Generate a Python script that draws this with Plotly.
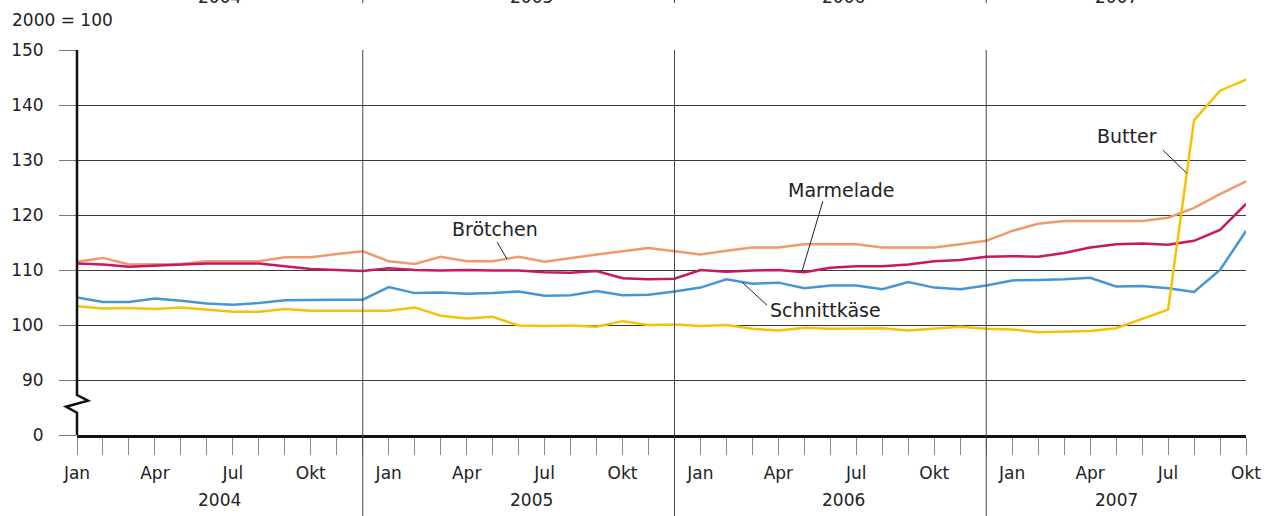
import plotly.graph_objects as go

# Monatswerte Jan 2004 bis Okt 2007, Index 2000 = 100
month_names = ["Jan", "Feb", "Mrz", "Apr", "Mai", "Jun", "Jul", "Aug", "Sep", "Okt", "Nov", "Dez"]
years = ["2004", "2005", "2006", "2007"]

broetchen = [111.5, 112.2, 111.0, 111.0, 111.1, 111.6, 111.6, 111.6, 112.3, 112.3, 112.9, 113.4,
             111.6, 111.1, 112.4, 111.6, 111.6, 112.4, 111.5, 112.2, 112.8, 113.4, 114.0, 113.4,
             112.8, 113.5, 114.1, 114.1, 114.7, 114.7, 114.7, 114.1, 114.1, 114.1, 114.7, 115.3,
             117.1, 118.4, 118.9, 118.9, 118.9, 118.9, 119.5, 121.3, 123.8, 126.1]
marmelade = [111.2, 111.0, 110.6, 110.8, 111.0, 111.2, 111.2, 111.2, 110.7, 110.2, 110.0, 109.8,
             110.3, 110.0, 109.9, 110.0, 109.9, 109.9, 109.6, 109.5, 109.8, 108.5, 108.3, 108.4,
             110.0, 109.7, 109.9, 110.0, 109.6, 110.4, 110.7, 110.7, 111.0, 111.6, 111.8, 112.4,
             112.5, 112.4, 113.1, 114.1, 114.7, 114.8, 114.6, 115.3, 117.3, 122.0]
schnittkaese = [105.0, 104.2, 104.2, 104.8, 104.4, 103.9, 103.7, 104.0, 104.5, 104.6, 104.6, 104.6,
                106.9, 105.8, 105.9, 105.7, 105.8, 106.1, 105.3, 105.4, 106.2, 105.4, 105.5, 106.1,
                106.8, 108.3, 107.5, 107.7, 106.7, 107.2, 107.2, 106.5, 107.8, 106.8, 106.5, 107.2,
                108.1, 108.2, 108.3, 108.6, 107.0, 107.1, 106.7, 106.0, 110.0, 117.1]
butter = [103.4, 103.0, 103.1, 102.9, 103.2, 102.8, 102.4, 102.4, 102.9, 102.6, 102.6, 102.6,
          102.6, 103.2, 101.7, 101.2, 101.5, 99.9, 99.8, 99.9, 99.7, 100.7, 100.0, 100.1,
          99.8, 100.0, 99.3, 99.0, 99.5, 99.3, 99.3, 99.4, 99.0, 99.3, 99.7, 99.3,
          99.2, 98.7, 98.8, 98.9, 99.4, 101.1, 102.8, 137.2, 142.6, 144.6]

y_ticks = [80, 90, 100, 110, 120, 130, 140, 150]   # 80 steht fuer die 0 unter dem Achsenbruch
y_ticktext = ["0", "90", "100", "110", "120", "130", "140", "150"]

FONT = "DejaVu Sans, Liberation Sans, Arial, sans-serif"
TXT = "#222222"
FS = 17      # Achsen
FS_LBL = 19  # Reihenbeschriftungen

n = len(broetchen)
x = list(range(n))
x_labels = [month_names[i % 12] if i % 3 == 0 else "" for i in x]

fig = go.Figure()
for name, vals, color in [("Brötchen", broetchen, "#F0996A"),
                          ("Marmelade", marmelade, "#C81862"),
                          ("Schnittkäse", schnittkaese, "#4596D2"),
                          ("Butter", butter, "#F6C106")]:
    fig.add_trace(go.Scatter(x=x, y=vals, name=name, mode="lines",
                             line=dict(color=color, width=2.5), showlegend=False))

# Jahresgrenzen (bei Dezember), durchgehend nach unten
for i in [11, 23, 35]:
    fig.add_shape(type="line", xref="x", yref="paper", x0=i, x1=i, y0=1, y1=-0.22,
                  line=dict(color="#444444", width=1), layer="above")
    fig.add_shape(type="line", xref="x", yref="paper", x0=i, x1=i, y0=1.122, y1=1.2,
                  line=dict(color="#444444", width=1), layer="above")

# linke Achse mit Bruch
fig.add_shape(type="path", xref="paper", yref="paper",
              path="M0,1 L0,0.1039 L0.0094,0.0891 L-0.0094,0.0735 L0,0.0579 L0,0",
              line=dict(color="#111111", width=2.5), layer="above")

year_pos = [5.5, 17.5, 29.5, 40]
for yr, xp in zip(years, year_pos):
    fig.add_annotation(x=xp, y=-0.169, xref="x", yref="paper", text=yr, showarrow=False,
                       yanchor="middle", font=dict(size=FS, color=TXT, family=FONT))
    # obere Jahreszeile ist im Original angeschnitten
    fig.add_annotation(x=xp, y=1.137, xref="x", yref="paper", text=yr, showarrow=False,
                       yanchor="middle", font=dict(size=FS, color=TXT, family=FONT))

fig.add_annotation(x=-0.0573, y=1.078, xref="paper", yref="paper", text="2000 = 100",
                   showarrow=False, xanchor="left", yanchor="middle",
                   font=dict(size=FS, color=TXT, family=FONT))

# Beschriftungen mit Hinweislinien
labels = [("Brötchen", 16.09, 117.45, (16.17, 115.1, 16.55, 112.0)),
          ("Marmelade", 29.41, 124.5, (28.71, 122.5, 27.91, 109.8)),
          ("Schnittkäse", 28.83, 102.7, (25.60, 107.8, 26.56, 103.6)),
          ("Butter", 40.40, 134.4, (41.8, 131.8, 42.72, 127.6))]
for text, lx, ly, (x0, y0, x1, y1) in labels:
    fig.add_annotation(x=lx, y=ly, text=text, showarrow=False,
                       font=dict(size=FS_LBL, color=TXT, family=FONT))
    fig.add_shape(type="line", x0=x0, y0=y0, x1=x1, y1=y1,
                  line=dict(color="#222222", width=1), layer="above")

fig.update_xaxes(range=[0, 45], tickvals=x, ticktext=x_labels, ticks="outside", ticklen=17,
                 tickcolor="#888888", tickwidth=1, showgrid=False, zeroline=False,
                 showline=True, linecolor="#111111", linewidth=2.5, automargin=False,
                 tickfont=dict(size=FS, color=TXT, family=FONT), ticklabelstandoff=4)
fig.update_yaxes(range=[80, 150], tickvals=y_ticks, ticktext=y_ticktext, ticks="outside",
                 ticklen=17, tickcolor="#777777", showgrid=True, gridcolor="#3a3a3a",
                 gridwidth=1, zeroline=False, showline=False, automargin=False,
                 tickfont=dict(size=FS, color=TXT, family=FONT), ticklabelstandoff=12)

fig.update_layout(width=1274, height=516,
                  margin=dict(l=77, r=28, t=50, b=81, autoexpand=False),
                  paper_bgcolor="white", plot_bgcolor="white",
                  font=dict(family=FONT, size=FS, color=TXT))

fig.write_html("out.html", config={"displayModeBar": False},
               post_script="document.body.style.margin = '0';")
